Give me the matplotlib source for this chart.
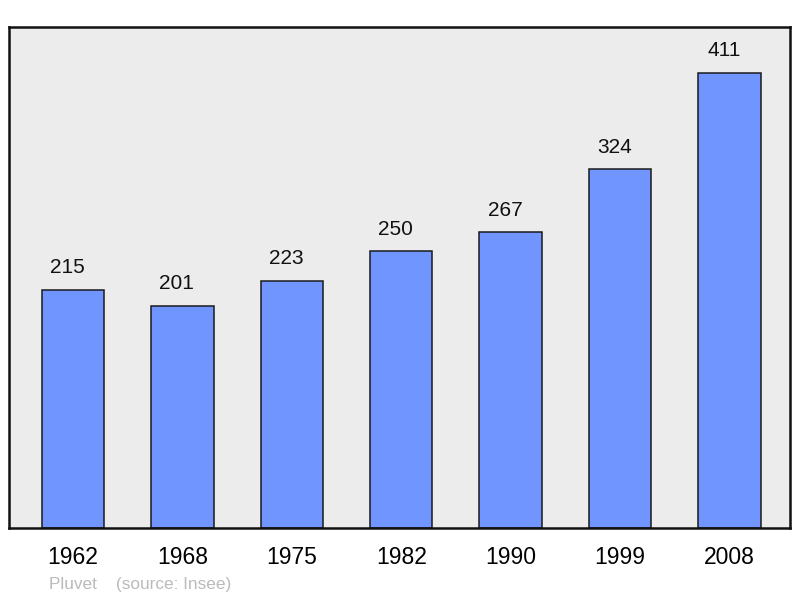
import matplotlib
matplotlib.use("Agg")
import matplotlib.pyplot as plt

plt.rcParams['font.family'] = ['Liberation Sans', 'DejaVu Sans']

years = ['1962', '1968', '1975', '1982', '1990', '1999', '2008']
population = [215, 201, 223, 250, 267, 324, 411]

fig = plt.figure(figsize=(8, 5.98), dpi=100)
ax = fig.add_axes([9/800, 1 - 528/598, 781/800, 501/598])
ax.set_facecolor('#ececec')

x = list(range(len(years)))
ax.bar(x, population, width=0.57, color='#7095ff', edgecolor='#1a1a1a', linewidth=1.1, zorder=2)

for xi, v in zip(x, population):
    ax.annotate(str(v), (xi, v), xytext=(-4, 16), textcoords='offset points',
                ha='center', va='center', fontsize=15, color='#111111')

ax.set_xlim(-0.585, 6.554)
ax.set_ylim(0, 452.6)
ax.set_yticks([])
ax.set_xticks(x)
ax.set_xticklabels(years, fontsize=16.5)
ax.tick_params(axis='x', length=0, pad=13)
for s in ax.spines.values():
    s.set_linewidth(1.8)
    s.set_color('#111111')

fig.text(49/800, 1 - 584/598, 'Pluvet    (source: Insee)', fontsize=12.4, color='#bbbbbb',
         ha='left', va='center')

fig.savefig('out.png', dpi=100)
